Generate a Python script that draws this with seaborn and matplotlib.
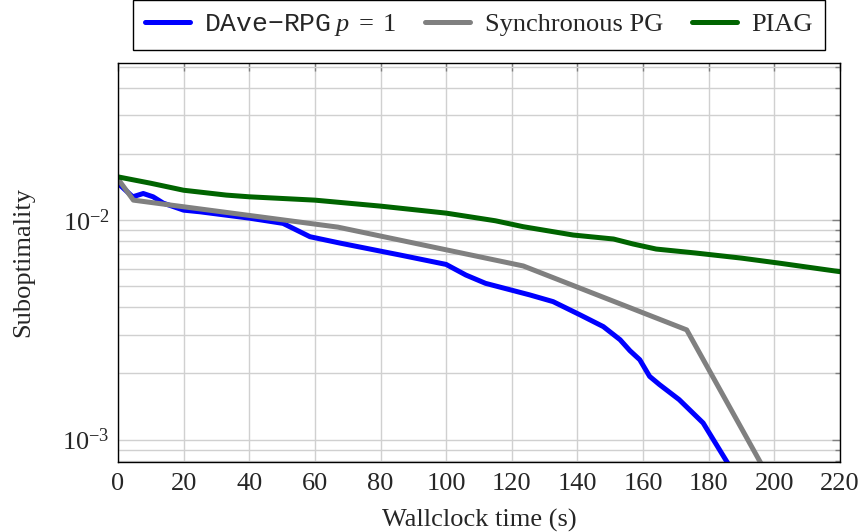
import matplotlib
matplotlib.use("Agg")
import matplotlib.pyplot as plt
import matplotlib.ticker as mticker
import pandas as pd
import seaborn as sns

# values
dave_t = [0, 4.5, 7.7, 10.7, 13.8, 20, 25, 40, 50.3, 58.5, 67.6, 80.8, 86, 100, 106, 112,
          125.5, 132.6, 140.8, 147.9, 153, 156, 159, 162, 165, 171, 178.3, 185.5, 188]
dave_y = [0.01472, 0.01277, 0.01322, 0.01277, 0.01195, 0.01110, 0.01091, 0.01021, 0.00966,
          0.00840, 0.00786, 0.00718, 0.00693, 0.00628, 0.00562, 0.00515, 0.00456, 0.00425,
          0.00370, 0.00327, 0.00285, 0.00254, 0.00231, 0.00194, 0.00178, 0.00152, 0.00119,
          0.000794, 0.00069]

sync_t = [0, 4.7, 67, 123.5, 173.3, 200]
sync_y = [0.0154, 0.01233, 0.00929, 0.00618, 0.00316, 0.000605]

piag_t = [0, 10, 20, 33, 40, 60, 80, 100, 115, 123.5, 138.7, 151, 157, 164, 176, 190, 202, 220]
piag_y = [0.01574, 0.01472, 0.01368, 0.0130, 0.01277, 0.01233, 0.01158, 0.01076, 0.00993,
          0.00933, 0.00855, 0.0082, 0.00778, 0.00738, 0.00708, 0.00671, 0.00635, 0.00582]

labels = [r"$\mathtt{DAve{-}RPG}\;p\;=\;1$", "Synchronous PG", "PIAG"]
colors = ["#0000ff", "#808080", "#006400"]

rows = []
for lab, ts, ys in zip(labels, [dave_t, sync_t, piag_t], [dave_y, sync_y, piag_y]):
    for t, y in zip(ts, ys):
        rows.append({"time": t, "subopt": y, "method": lab})
df = pd.DataFrame(rows)

sns.set_theme(style="whitegrid")
plt.rcParams["font.family"] = ["Liberation Serif", "DejaVu Serif"]
plt.rcParams["mathtext.fontset"] = "custom"
plt.rcParams["mathtext.rm"] = "Liberation Serif"
plt.rcParams["mathtext.it"] = "Liberation Serif:italic"
plt.rcParams["mathtext.tt"] = "Liberation Mono"

fs = 19
fig = plt.figure(figsize=(8.63, 5.32), dpi=100)
ax = fig.add_axes([0.1367, 0.1316, 0.8366, 0.75])

sns.lineplot(data=df, x="time", y="subopt", hue="method", hue_order=labels,
             palette=dict(zip(labels, colors)), sort=False, estimator=None,
             linewidth=3.6, ax=ax)

ax.set_yscale("log")
ax.set_xlim(0, 220)
ax.set_ylim(7.9e-4, 5.2e-2)
ax.xaxis.set_major_locator(mticker.MultipleLocator(20))
ax.yaxis.set_minor_locator(mticker.LogLocator(base=10, subs=range(2, 10)))
ax.yaxis.set_minor_formatter(mticker.NullFormatter())

ax.grid(True, which="major", color="#d0d0d0", linewidth=1.0)
ax.grid(True, which="minor", axis="y", color="#d0d0d0", linewidth=1.0)
for s in ax.spines.values():
    s.set_color("black")
    s.set_linewidth(1.0)
ax.tick_params(which="both", direction="in", top=True, right=True, color="#808080",
               labelsize=fs)
ax.tick_params(axis="x", pad=8)
ax.tick_params(axis="y", pad=6)
ax.tick_params(which="major", length=6, width=1)
ax.tick_params(which="minor", length=3.5, width=1)

ax.set_xlabel("Wallclock time (s)", fontsize=fs, labelpad=10)
ax.set_ylabel("Suboptimality", fontsize=fs, labelpad=20)

ax.legend(loc="lower center", bbox_to_anchor=(0.5, 1.033), ncol=3, fontsize=fs,
          frameon=True, fancybox=False, framealpha=1, edgecolor="black",
          handlelength=1.7, handletextpad=0.55, columnspacing=1.1,
          borderpad=0.45, borderaxespad=0)
ax.get_legend().get_frame().set_linewidth(1.0)

fig.savefig("out.png", dpi=100)
